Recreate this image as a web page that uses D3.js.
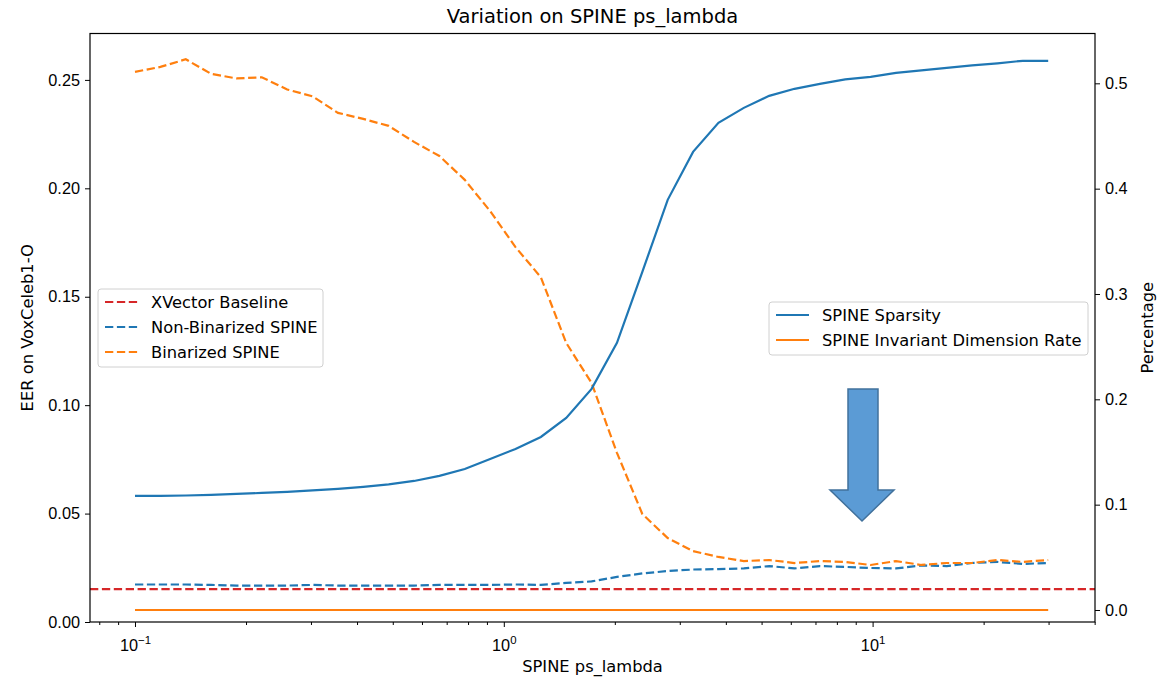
<!DOCTYPE html>
<html>
<head>
<meta charset="utf-8">
<script src="https://cdn.jsdelivr.net/npm/d3@7"></script>
<style>
  body { margin: 0; background: #fff; }
  svg { font-family: "DejaVu Sans", sans-serif; }
</style>
</head>
<body>
<svg id="chart" width="1175" height="679"></svg>
<script>
// ps_lambda values (log spaced 0.1 .. 30)
const lambdas = [0.1, 0.1172, 0.1373, 0.1608, 0.1884, 0.2207, 0.2586, 0.3030, 0.3550, 0.4159,
  0.4873, 0.5709, 0.6689, 0.7837, 0.9182, 1.0757, 1.2603, 1.4766, 1.7300, 2.0269,
  2.3747, 2.7823, 3.2597, 3.8190, 4.4744, 5.2422, 6.1418, 7.1957, 8.4305, 9.8771,
  11.572, 13.558, 15.884, 18.610, 21.804, 25.545, 29.929];

const baselineEER = 0.0152;

const nonBinarizedEER = [0.0173, 0.0173, 0.0173, 0.0171, 0.0168, 0.0168, 0.0168, 0.0171, 0.0168, 0.0168,
  0.0168, 0.0168, 0.0171, 0.0171, 0.0171, 0.0173, 0.0171, 0.0180, 0.0187, 0.0208,
  0.0224, 0.0235, 0.0242, 0.0244, 0.0247, 0.0258, 0.0247, 0.0258, 0.0254, 0.0249,
  0.0247, 0.0261, 0.0258, 0.0272, 0.0277, 0.0268, 0.0272];

const binarizedEER = [0.2537, 0.2560, 0.2595, 0.2528, 0.2507, 0.2512, 0.2456, 0.2424, 0.2348, 0.2320,
  0.2288, 0.2214, 0.2149, 0.2039, 0.1895, 0.1729, 0.1590, 0.1287, 0.1102, 0.0780,
  0.0498, 0.0387, 0.0327, 0.0300, 0.0281, 0.0286, 0.0272, 0.0281, 0.0277, 0.0263,
  0.0281, 0.0263, 0.0272, 0.0272, 0.0286, 0.0277, 0.0286];

const sparsity = [0.1083, 0.1083, 0.1087, 0.1092, 0.1102, 0.1111, 0.1121, 0.1135, 0.1149, 0.1168,
  0.1192, 0.1225, 0.1273, 0.1339, 0.1434, 0.1529, 0.1643, 0.1823, 0.2099, 0.2536,
  0.3210, 0.3894, 0.4349, 0.4625, 0.4767, 0.4881, 0.4948, 0.4995, 0.5038, 0.5062,
  0.5100, 0.5123, 0.5147, 0.5171, 0.5190, 0.5214, 0.5214];

const invariantRate = [0, 0, 0, 0, 0, 0, 0, 0, 0, 0, 0, 0, 0, 0, 0, 0, 0, 0, 0, 0,
  0, 0, 0, 0, 0, 0, 0, 0, 0, 0, 0, 0, 0, 0, 0, 0, 0];

const leftTicks = [0.00, 0.05, 0.10, 0.15, 0.20, 0.25];
const rightTicks = [0.0, 0.1, 0.2, 0.3, 0.4, 0.5];
const xTicks = [0.1, 1, 10];

const blue = "#1f77b4", orange = "#ff7f0e", red = "#d62728";
const fs = "16.3px";

const svg = d3.select("#chart");
const mLeft = 90, mRight = 1095, mTop = 33.5, mBottom = 622;

const x = d3.scaleLog().domain([Math.pow(10, -1.122), Math.pow(10, 1.603)]).range([mLeft, mRight]);
const yL = d3.scaleLinear().domain([0, 0.2714]).range([mBottom, mTop]);
const yR = d3.scaleLinear().domain([-0.0114, 0.5473]).range([mBottom, mTop]);

// lines
const dash = "8.3,3.6";
function draw(vals, yScale, color, dashed) {
  const line = d3.line().x((d, i) => x(lambdas[i])).y(d => yScale(d));
  svg.append("path").datum(vals)
    .attr("d", line)
    .attr("fill", "none")
    .attr("stroke", color)
    .attr("stroke-width", 2.2)
    .attr("stroke-dasharray", dashed ? dash : null);
}

svg.append("line")
  .attr("x1", mLeft).attr("x2", mRight)
  .attr("y1", yL(baselineEER)).attr("y2", yL(baselineEER))
  .attr("stroke", red).attr("stroke-width", 2.2).attr("stroke-dasharray", dash);
draw(nonBinarizedEER, yL, blue, true);
draw(binarizedEER, yL, orange, true);
draw(sparsity, yR, blue, false);
draw(invariantRate, yR, orange, false);

// axes
const fmt2 = d3.format(".2f"), fmt1 = d3.format(".1f");
svg.append("g").attr("transform", `translate(${mLeft},0)`)
  .call(d3.axisLeft(yL).tickValues(leftTicks).tickFormat(fmt2).tickSize(5).tickPadding(5))
  .call(g => g.select(".domain").remove());
svg.append("g").attr("transform", `translate(${mRight},0)`)
  .call(d3.axisRight(yR).tickValues(rightTicks).tickFormat(fmt1).tickSize(5).tickPadding(5))
  .call(g => g.select(".domain").remove());

const minor = [];
[0.01, 0.1, 1, 10].forEach(b => { for (let k = 2; k <= 9; k++) { const v = b * k; if (v > x.domain()[0] && v < x.domain()[1]) minor.push(v); } });
svg.append("g").attr("transform", `translate(0,${mBottom})`)
  .call(d3.axisBottom(x).tickValues(minor).tickFormat("").tickSize(3))
  .call(g => g.select(".domain").remove());
const xg = svg.append("g").attr("transform", `translate(0,${mBottom})`)
  .call(d3.axisBottom(x).tickValues(xTicks).tickFormat("").tickSize(5))
  .call(g => g.select(".domain").remove());
xg.selectAll(".tick").append("text")
  .attr("y", 29).attr("fill", "#000").attr("text-anchor", "middle")
  .each(function(d) {
    const t = d3.select(this);
    t.append("tspan").text("10");
    t.append("tspan").attr("dy", -7).attr("class", "sup")
      .text(d3.format("d")(Math.round(Math.log10(d))).replace("-", "\u2212"));
  });
svg.selectAll(".tick text").attr("font-size", null).style("font-size", fs).attr("fill", "#000");
svg.selectAll(".tick line").attr("stroke", "#000").attr("stroke-width", 1);
svg.selectAll(".tick tspan.sup").style("font-size", "11.4px");

svg.append("rect").attr("x", mLeft).attr("y", mTop).attr("width", mRight - mLeft).attr("height", mBottom - mTop)
  .attr("fill", "none").attr("stroke", "#000").attr("stroke-width", 1.2);

// labels
svg.append("text").attr("x", (mLeft + mRight) / 2).attr("y", 23).attr("text-anchor", "middle")
  .style("font-size", "19.5px").text("Variation on SPINE ps_lambda");
svg.append("text").attr("x", (mLeft + mRight) / 2).attr("y", 672).attr("text-anchor", "middle")
  .style("font-size", fs).text("SPINE ps_lambda");
svg.append("text").attr("transform", `translate(33,${(mTop + mBottom) / 2}) rotate(-90)`).attr("text-anchor", "middle")
  .style("font-size", fs).text("EER on VoxCeleb1-O");
svg.append("text").attr("transform", `translate(1153,${(mTop + mBottom) / 2}) rotate(-90)`).attr("text-anchor", "middle")
  .style("font-size", fs).text("Percentage");

// legends
function legend(x0, y0, w, items) {
  const g = svg.append("g");
  g.append("rect").attr("x", x0).attr("y", y0).attr("width", w).attr("height", items.length * 25 + 3)
    .attr("rx", 3).attr("fill", "#fff").attr("fill-opacity", 0.8).attr("stroke", "#d0d0d0");
  items.forEach((it, i) => {
    const cy = y0 + 13 + i * 25;
    g.append("line").attr("x1", x0 + 7).attr("x2", x0 + 40).attr("y1", cy).attr("y2", cy)
      .attr("stroke", it.color).attr("stroke-width", 2.2).attr("stroke-dasharray", it.dashed ? dash : null);
    g.append("text").attr("x", x0 + 53).attr("y", cy).attr("dominant-baseline", "central")
      .style("font-size", fs).text(it.label);
  });
}
legend(98, 289, 225, [
  { label: "XVector Baseline", color: red, dashed: true },
  { label: "Non-Binarized SPINE", color: blue, dashed: true },
  { label: "Binarized SPINE", color: orange, dashed: true }
]);
legend(769, 302, 319, [
  { label: "SPINE Sparsity", color: blue, dashed: false },
  { label: "SPINE Invariant Dimension Rate", color: orange, dashed: false }
]);

// block arrow annotation
const arrow = [[848, 389], [878, 389], [878, 490], [894, 490], [862, 521], [830, 490], [848, 490]];
svg.append("path").attr("d", d3.line()(arrow) + "Z")
  .attr("fill", "#5b9bd5").attr("stroke", "#41719c").attr("stroke-width", 1.5);
</script>
</body>
</html>
